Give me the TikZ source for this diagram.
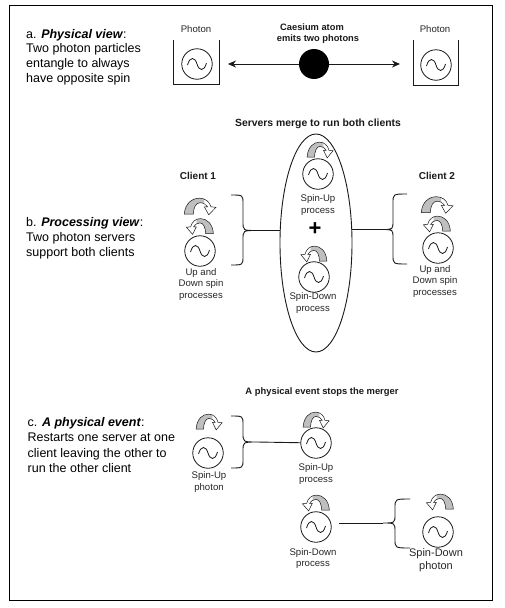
\documentclass[tikz,border=0pt]{standalone}
\usepackage{fontspec}
\setmainfont{Liberation Sans}
\usetikzlibrary{arrows.meta,shapes.geometric}
\newcommand{\spinshape}{(-15.7,7.5) .. controls (-15,-3) and (-8,-8.3) .. (-0.5,-8.3) .. controls (5,-8.3) and (9.5,-5) .. (11,0.3) -- (16,0.8) -- (8.7,8.3) -- (4.3,0.3) -- (7.5,0.3) .. controls (6,-2) and (3.5,-3.8) .. (0,-3.8) .. controls (-4,-3.8) and (-6.5,1) .. (-6.7,7.5) -- cycle}
\newcommand{\mybrace}[6]{% x-open, x-spine, x-tip, y-top, y-tip, y-bottom
  \draw[conn] (#1,#4) .. controls (#2,#4) and (#2,#4) .. (#2,#4+9) -- (#2,#5-9) .. controls (#2,#5) and (#2,#5) .. (#3,#5) .. controls (#2,#5) and (#2,#5) .. (#2,#5+9) -- (#2,#6-9) .. controls (#2,#6) and (#2,#6) .. (#1,#6);}
\tikzset{
  x=1pt,y=-1pt,
  conn/.style={line width=0.9pt,black!90},
  osc/.style={circle,draw=black!90,line width=0.8pt,minimum size=30.5pt,inner sep=0pt,
    path picture={\draw[line width=0.8pt,black!90,shift={(path picture bounding box.center)}] (-9.5,1) .. controls (-7,-8) and (-2,-7) .. (0,0) .. controls (2,7) and (7,8) .. (9.5,-1);}},
  lab/.style={font=\fontsize{9.6}{11.6}\selectfont,align=center,inner sep=0pt,text=black!85},
  blab/.style={font=\fontsize{9.3}{12}\selectfont\bfseries,align=center,inner sep=0pt,text=black!90},
  main/.style={align=left,inner sep=0pt,anchor=north west},
  spinarrow/.pic={
    \fill[white] \spinshape;
    \begin{scope}
      \clip (-20,-12) rectangle (4,12);
      \fill[black!25] \spinshape;
    \end{scope}
    \draw[line width=0.5pt,black!90,line join=miter] \spinshape;
  }
}
\begin{document}
\begin{tikzpicture}
\useasboundingbox (0,0) rectangle (504,608);
\draw[line width=1pt] (9.5,5.5) rectangle (492,600);
% left texts
\node[main,font=\fontsize{12.5}{14.6}\selectfont] (ta) at (26,29) {a. \textbf{\textit{Physical view}}:\\Two photon particles\\entangle to always\\have opposite spin};
\node[main,font=\fontsize{12.5}{15}\selectfont] (tb) at (26,217.5) {b. \textbf{\textit{Processing view}}:\\Two photon servers\\support both clients};
\node[main,font=\fontsize{12.5}{15.4}\selectfont] (tc) at (27.5,417) {c. \textbf{\textit{A physical event}}:\\Restarts one server at one\\client leaving the other to\\run the other client};
% section a
\node[lab] (pl) at (196,29) {Photon};
\node[lab] (pr) at (435,29) {Photon};
\node[blab] (cs1) at (312,27) {Caesium atom};
\node[blab] (cs2) at (318,39) {emits two photons};
\draw[conn] (173,40) -- (173,84.5) -- (219,84.5) -- (219,40);
\draw[conn] (413,40) -- (413,85) -- (458,85) -- (458,40);
\node[osc] (c1) at (197,64) {};
\node[osc] (c2) at (436,65) {};
\node[circle,fill=black,minimum size=30pt,inner sep=0pt] (atom) at (314,64) {};
\coordinate (al) at (228,64);
\coordinate (ar) at (400,64);
\draw[conn,-{Stealth[length=8pt,width=7pt]}] (atom) -- (al);
\draw[conn,-{Stealth[length=8pt,width=7pt]}] (atom) -- (ar);
% section b
\node[blab,font=\fontsize{10.4}{12}\selectfont\bfseries] (smt) at (318,124) {Servers merge to run both clients};
\node[ellipse,draw=black!90,line width=0.9pt,minimum width=72pt,minimum height=218pt,inner sep=0pt] (e) at (316,243) {};
\pic[xscale=0.82,yscale=0.95] at (320,150) {spinarrow};
\node[osc] (c3) at (318,174) {};
\node[lab] (t3) at (318,205) {Spin-Up\\process};
\node[font=\fontsize{22}{22}\selectfont\bfseries,inner sep=0pt] (plus) at (315,229) {+};
\pic[xscale=-0.82,yscale=0.95] at (314,254) {spinarrow};
\node[osc] (c4) at (314,277) {};
\node[lab] (t4) at (313,303) {Spin-Down\\process};
% client 1
\node[blab,font=\fontsize{10}{12}\selectfont\bfseries] (cl1) at (198,176) {Client 1};
\pic at (200,206.5) {spinarrow};
\pic[xscale=-0.85,yscale=0.95] at (200,226.5) {spinarrow};
\node[osc] (c5) at (200,251) {};
\node[lab] (t5) at (201,284.5) {Up and\\Down spin\\processes};
\mybrace{231}{243}{256}{195}{230.5}{265}
\coordinate (b1) at (256,230.5);
\draw[conn] (b1) -- (b1 -| e.west);
% client 2
\node[blab,font=\fontsize{10}{12}\selectfont\bfseries] (cl2) at (437,176) {Client 2};
\pic at (437,205) {spinarrow};
\pic[xscale=-0.85,yscale=0.95] at (437,224) {spinarrow};
\node[osc] (c6) at (438,248) {};
\node[lab] (t6) at (435,281.5) {Up and\\Down spin\\processes};
\mybrace{407}{393}{383}{194}{229.5}{264}
\coordinate (b2) at (383,229.5);
\draw[conn] (b2) -- (b2 -| e.east);
% section c
\node[blab,font=\fontsize{9.4}{11}\selectfont\bfseries] (apt) at (322,392) {A physical event stops the merger};
\pic[xscale=0.82,yscale=0.95] at (209,422) {spinarrow};
\node[osc] (c7) at (208,453) {};
\node[lab] (t7) at (209,482) {Spin-Up\\photon};
\mybrace{231}{243}{257}{416}{442}{468}
\node[osc] (c8) at (316,443) {};
\pic[xscale=0.82,yscale=0.95] at (316,420) {spinarrow};
\node[lab] (t8) at (316,474) {Spin-Up\\process};
\coordinate (b3) at (257,442);
\draw[conn] (b3) -- (c8);
\pic[xscale=-0.85,yscale=0.95] at (316,503) {spinarrow};
\node[osc] (c9) at (316,527) {};
\node[lab] (t9) at (313,558.5) {Spin-Down\\process};
\coordinate (b4) at (383,523);
\coordinate (l4) at (339,523);
\draw[conn] (l4) -- (b4);
\mybrace{410}{395}{383}{499}{523}{548}
\pic[xscale=-0.85,yscale=0.95] at (440,502) {spinarrow};
\node[osc] (c10) at (438,532) {};
\node[lab,font=\fontsize{11}{13}\selectfont] (t10) at (436,560.5) {Spin-Down\\photon};
\end{tikzpicture}
\end{document}
